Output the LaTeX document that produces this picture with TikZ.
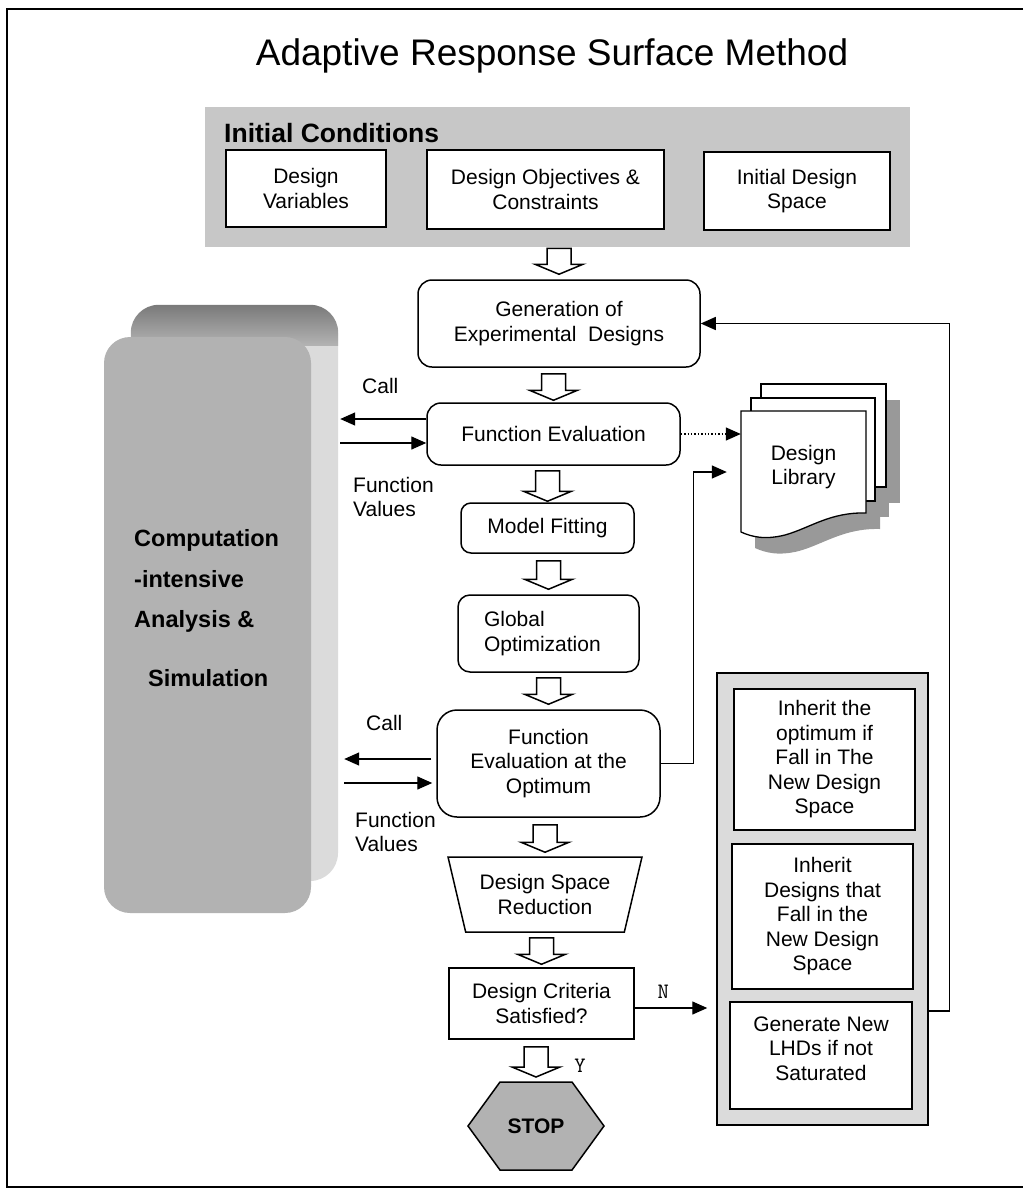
\documentclass[tikz,border=0pt]{standalone}
\usepackage{fontspec}
\setmainfont{Liberation Sans}
\usetikzlibrary{calc,arrows.meta,shapes.geometric}
\begin{document}
\begin{tikzpicture}[x=1pt,y=-1pt,
  every node/.style={font=\fontsize{21}{24.5}\selectfont, align=center, inner sep=0pt},
  box/.style={draw, line width=1.5pt, fill=white},
  rbox/.style={box, rounded corners=14pt},
  arr/.style={line width=1.4pt, -{Triangle[length=15pt,width=13pt]}},
  hollow/.style={draw, line width=1.5pt, fill=white, line join=miter,
    to path={let \p1=(\tikztostart), \p2=(\tikztotarget) in
      (\x2-12pt,\y1) -- (\x2+12pt,\y1) -- (\x2+12pt,\y2+10pt) -- (\x2+24pt,\y2+10pt)
      -- (\x2,\y2) -- (\x2-24pt,\y2+10pt) -- (\x2-12pt,\y2+10pt) -- cycle}},
  lbl/.style={align=left},
  page/.style={draw, line width=1.3pt, fill=white},
  shadowpage/.style={fill=black!40},
  bigbold/.style={font=\bfseries\fontsize{23.5}{28}\selectfont},
  branch/.style={font=\ttfamily\fontsize{22}{24}\selectfont}
]
\useasboundingbox (0,0) rectangle (1023,1189);

% outer frame
\draw[line width=1.8pt] (1023,9) -- (7,9) -- (7,1187) -- (1023,1187);

% title
\node (title) at (552,56) {\fontsize{37}{40}\selectfont Adaptive Response Surface Method};

% initial conditions panel
\node[fill=black!22, minimum width=705pt, minimum height=140pt, anchor=north west] (ic) at (205,107) {};
\node[anchor=west, font=\bfseries\fontsize{26.5}{30}\selectfont] (ictitle) at (224,133) {Initial Conditions};
\node[box, minimum width=160pt, minimum height=77pt] (dv) at (306,188.5) {Design\\Variables};
\node[box, minimum width=237pt, minimum height=79pt] (doc) at (545.5,189.5) {Design Objectives \&\\Constraints};
\node[box, minimum width=186pt, minimum height=78pt] (ids) at (797,191) {Initial Design\\Space};

% computation block (3-D slab)
\node[fill=black!14, rounded corners=28pt, minimum width=207pt, minimum height=576pt] (compback) at (234.5,593) {};
\begin{scope}
  \clip[rounded corners=28pt] (compback.north west) rectangle (compback.south east);
  \shade[top color=black!55, bottom color=black!30] (100,300) rectangle (345,345);
\end{scope}
\node[fill=black!30, rounded corners=26pt, minimum width=207pt, minimum height=576pt] (comp) at (207.5,625) {};
\node[bigbold, align=left, anchor=north west] (comptext) at (134,529)
  {Computation\\[13.5pt]-intensive\\[12pt]Analysis \&\\[31pt]\hspace*{14pt}Simulation};

% main flow
\node[rbox, minimum width=282pt, minimum height=87pt] (gen) at (559,323.5) {Generation of\\Experimental\ \ Designs};
\node[rbox, minimum width=253pt, minimum height=62pt] (fe) at (553.5,434) {Function Evaluation};
\node[rbox, rounded corners=10pt, minimum width=173pt, minimum height=50pt] (mf) at (547.5,528) {Model Fitting};
\node[rbox, rounded corners=12pt, minimum width=181pt, minimum height=77pt, text width=129pt, align=left] (go) at (548.5,633.5) {Global\\Optimization};
\node[rbox, rounded corners=20pt, minimum width=223pt, minimum height=107pt] (feo) at (548.5,763.5) {Function\\Evaluation at the\\Optimum};
\node[draw, line width=1.5pt, trapezium, shape border rotate=180, trapezium angle=70,
      trapezium stretches=true, minimum width=194pt, minimum height=75pt] (dsr) at (545,894.5) {Design Space\\Reduction};
\node[box, minimum width=185pt, minimum height=71pt] (dc) at (541.5,1003.5) {Design Criteria\\Satisfied?};

% stop hexagon
\coordinate (stopc) at (536,1126);
\coordinate (stoptop) at ($(stopc)+(0,-44)$);
\draw[line width=1.5pt, fill=black!30] (stopc) ++(-68,0) -- ++(32,-44) -- ++(72,0) -- ++(32,44)
  -- ++(-32,44) -- ++(-72,0) -- cycle;
\node[font=\bfseries\fontsize{21}{24}\selectfont] (stop) at (stopc) {STOP};

% hollow flow arrows
\draw[hollow] ([yshift=-1pt]ic.south) to ([yshift=5pt]gen.north);
\draw[hollow] ([yshift=-6pt]gen.south) to ([yshift=2pt]fe.north);
\draw[hollow] ([yshift=-5pt]fe.south) to ([yshift=1pt]mf.north);
\draw[hollow] ([yshift=-7pt]mf.south) to ([yshift=5pt]go.north);
\draw[hollow] ([yshift=-5pt]go.south) to ([yshift=5pt]feo.north);
\draw[hollow] ([yshift=-7pt]feo.south) to ([yshift=4pt]dsr.north);
\draw[hollow] ([yshift=-5pt]dsr.south) to ([yshift=3pt]dc.north);
\draw[hollow] ([yshift=-7pt]dc.south) to ([yshift=5pt]stoptop);

% design library (stack of pages with shadow)
\begin{scope}[shift={(14,16)}]
  \fill[shadowpage] (761,384) rectangle (886,487);
  \fill[shadowpage] (751,398) rectangle (875,501);
  \fill[shadowpage] (741,411) -- (866,411) -- (866,513) .. controls (830,512) and (810,528) .. (785,535)
    .. controls (765,540) and (752,537) .. (741,532) -- cycle;
\end{scope}
\draw[page] (761,384) rectangle (886,487);
\draw[page] (751,398) rectangle (875,501);
\draw[page] (741,411) -- (866,411) -- (866,513) .. controls (830,512) and (810,528) .. (785,535)
  .. controls (765,540) and (752,537) .. (741,532) -- cycle;
\node[minimum width=125pt, minimum height=112pt] (lib) at (803.5,467) {Design\\Library};

% right column: design space update
\node[draw, line width=1.5pt, fill=black!14, minimum width=211pt, minimum height=452pt] (rc) at (822.5,899) {};
\node[box, minimum width=181pt, minimum height=141pt] (r1) at (824.5,759.5) {Inherit the\\optimum if\\Fall in The\\New Design\\Space};
\node[box, minimum width=181pt, minimum height=145pt] (r2) at (822.5,916.5) {Inherit\\Designs that\\Fall in the\\New Design\\Space};
\node[box, minimum width=182pt, minimum height=107pt] (r3) at (821,1055.5) {Generate New\\LHDs if not\\Saturated\\[-10pt]\mbox{}};

% calls to the analysis code
\coordinate (c1) at ([yshift=15pt]fe.west);
\coordinate (c2) at ([yshift=-9pt]fe.west);
\draw[arr] (c1) -- ([xshift=2pt]c1 -| compback.east);
\draw[arr] ([xshift=2pt]c2 -| compback.east) -- (c2);
\coordinate (c3) at ([yshift=4.5pt]feo.west);
\coordinate (c4) at ([yshift=-19.5pt]feo.west);
\draw[arr, shorten <=5pt] (c3) -- ([xshift=6pt]c3 -| compback.east);
\draw[arr, shorten >=4pt] ([xshift=6pt]c4 -| compback.east) -- (c4);

\node[anchor=west] (call1) at (362,386) {Call};
\node[lbl, anchor=north west] (fv1) at (353,477) {Function\\Values};
\node[anchor=west] (call2) at (366,723) {Call};
\node[lbl, anchor=north west] (fv2) at (355,812) {Function\\Values};

% library connections
\draw[arr, dotted] (fe.east) -- (fe.east -| lib.west);
\draw[arr] (feo.east) -- ++(33,0) |- ([xshift=-14pt,yshift=-5pt]lib.west);

% decision branches
\draw[arr, shorten >=9pt] ([yshift=-4.5pt]dc.east) -- ([yshift=-4.5pt]dc.east -| rc.west)
  node[pos=0.35, above=9pt, branch] (nlbl) {N};
\node[branch] (ylbl) at (580,1066) {Y};

% feedback loop
\draw[arr] ([yshift=-112pt]rc.east) -| ([xshift=249pt]gen.east) -- (gen.east);
\end{tikzpicture}
\end{document}
